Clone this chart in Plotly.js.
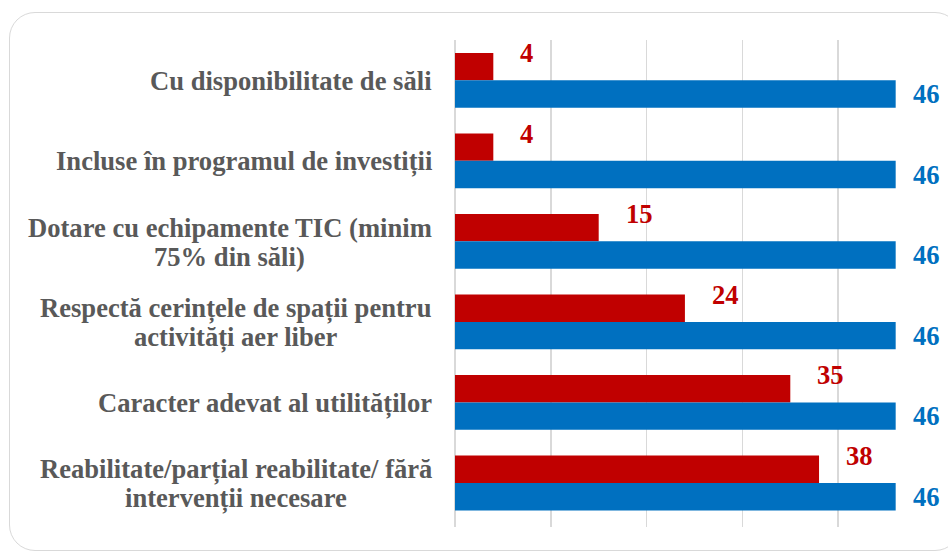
<!DOCTYPE html>
<html>
<head>
<meta charset="utf-8">
<script src="https://cdn.plot.ly/plotly-3.0.1.min.js"></script>
<style>
  body { margin: 0; background: #ffffff; }
  #frame {
    position: absolute; left: 9px; top: 12px; width: 952px; height: 539px;
    border: 1.5px solid #d9d9d9; border-radius: 26px; box-sizing: border-box;
  }
  #chart { position: absolute; left: 0; top: 0; width: 948px; height: 552px; }
  #chart text { font-family: 'Liberation Serif', serif !important; }
</style>
</head>
<body>
<div id="frame"></div>
<div id="chart"></div>
<script>
        // categorii (de sus in jos) si valorile celor doua serii
        const categories = [
            'Cu disponibilitate de săli',
            'Incluse în programul de investiții',
            'Dotare cu echipamente TIC (minim<br>75% din săli)',
            'Respectă cerințele de spații pentru<br>activități aer liber',
            'Caracter adevat al utilităților',
            'Reabilitate/parțial reabilitate/ fără<br>intervenții necesare'
        ];
        const redValues = [4, 4, 15, 24, 35, 38];
        const blueValues = [46, 46, 46, 46, 46, 46];

        const red = '#C00000';
        const blue = '#0070C0';
        const grey = '#595959';
        const fontFamily = 'Liberation Serif';
        const fontSize = 26.6;

        const traceRed = {
            x: redValues,
            y: categories,
            type: 'bar',
            orientation: 'h',
            name: 'Criteriu îndeplinit',
            marker: { color: red },
            hoverinfo: 'x'
        };

        const traceBlue = {
            x: blueValues,
            y: categories,
            type: 'bar',
            orientation: 'h',
            name: 'Total',
            marker: { color: blue },
            hoverinfo: 'x'
        };

        // masurare text pentru centrarea etichetelor pe mai multe randuri
        const ctx = document.createElement('canvas').getContext('2d');
        ctx.font = 'bold ' + fontSize + 'px "Liberation Serif"';

        const plotLeft = 455;
        const labelRight = 432;
        const lineHeight = 29;

        const annotations = [];
        categories.forEach((cat, i) => {
            const lines = cat.split('<br>');
            const maxW = Math.max(...lines.map(l => ctx.measureText(l).width));
            const centerX = labelRight - maxW / 2;
            lines.forEach((line, j) => {
                annotations.push({
                    xref: 'paper', x: 0, yref: 'y', y: cat,
                    xanchor: 'center', yanchor: 'middle',
                    xshift: centerX - plotLeft,
                    yshift: ((lines.length - 1) / 2 - j) * lineHeight - 1,
                    text: '<b>' + line + '</b>', showarrow: false,
                    font: { family: fontFamily, size: fontSize, color: grey }
                });
            });
            annotations.push({
                x: redValues[i], y: cat, xref: 'x', yref: 'y',
                xanchor: 'left', yanchor: 'middle', xshift: 25, yshift: 27,
                text: '<b>' + redValues[i] + '</b>', showarrow: false,
                font: { family: fontFamily, size: fontSize, color: red }
            });
            annotations.push({
                x: blueValues[i], y: cat, xref: 'x', yref: 'y',
                xanchor: 'left', yanchor: 'middle', xshift: 15, yshift: -14,
                text: '<b>' + blueValues[i] + '</b>', showarrow: false,
                font: { family: fontFamily, size: fontSize, color: blue }
            });
        });

        const layout = {
            width: 948,
            height: 552,
            margin: { l: plotLeft, r: 14, t: 40, b: 25 },
            barmode: 'group',
            bargap: 0.32,
            bargroupgap: 0,
            showlegend: false,
            paper_bgcolor: 'rgba(0,0,0,0)',
            plot_bgcolor: 'rgba(0,0,0,0)',
            font: { family: fontFamily },
            xaxis: {
                range: [0, 50],
                dtick: 10,
                showgrid: true,
                gridcolor: '#d9d9d9',
                gridwidth: 1.5,
                zeroline: true,
                zerolinecolor: '#d9d9d9',
                zerolinewidth: 1.5,
                showticklabels: false,
                ticks: ''
            },
            yaxis: {
                type: 'category',
                autorange: 'reversed',
                showticklabels: false,
                showgrid: false,
                ticks: ''
            },
            annotations: annotations
        };

        Plotly.newPlot('chart', [traceRed, traceBlue], layout, { displayModeBar: false, staticPlot: true });
</script>
</body>
</html>
